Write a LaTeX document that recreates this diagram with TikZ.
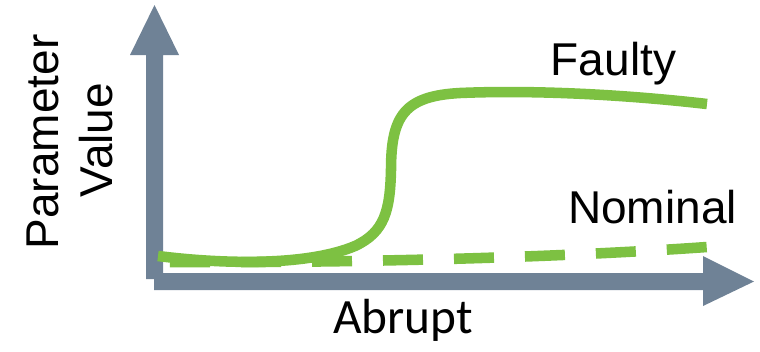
\documentclass[tikz,border=0pt]{standalone}
\usepackage{fontspec}
\setmainfont{Liberation Sans}
\newfontfamily\abruptfont{Carlito}
\usetikzlibrary{positioning}
\definecolor{axisgray}{HTML}{6F8296}
\definecolor{signalgreen}{HTML}{7DC142}
\tikzset{
	lbl/.style={font=\fontsize{34.5}{40}\selectfont, anchor=base, inner sep=0pt},
	signal/.style={draw=signalgreen, line width=7.9pt}
}

\begin{document}
\begin{tikzpicture}[x=0.75pt, y=-0.75pt]
		\useasboundingbox (0,0) rectangle (760,351);
		\fill[axisgray] (146,279) -- (146,55) -- (130,55) -- (154.5,5) -- (179,55) -- (163,55) -- (163,279) -- cycle;
		\fill[axisgray] (154,273) -- (703,273) -- (703,256) -- (754,281.5) -- (703,306) -- (703,290) -- (154,290) -- cycle;
		\draw[signal, dash pattern=on 30pt off 23.25pt] (170,262) .. controls (350,263) and (550,258) .. (707,247);
		\draw[signal] (158,256) .. controls (230,265) and (310,265) .. (355,246)
			.. controls (385,232) and (390,210) .. (391,170)
			.. controls (391,115) and (405,96) .. (460,93)
			.. controls (530,90) and (620,94) .. (707,104);
		\node[lbl] (faulty) at (613.5,75) {Faulty};
		\node[lbl] (nominal) at (652.5,223) {Nominal};
		\node[lbl, font=\abruptfont\fontsize{37}{40}\selectfont] (abrupt) at (403,333) {Abrupt};
		\node[lbl, rotate=90] (param) at (58,142) {Parameter};
		\node[lbl, rotate=90] (value) at (112,140) {Value};
	\end{tikzpicture}
\end{document}
